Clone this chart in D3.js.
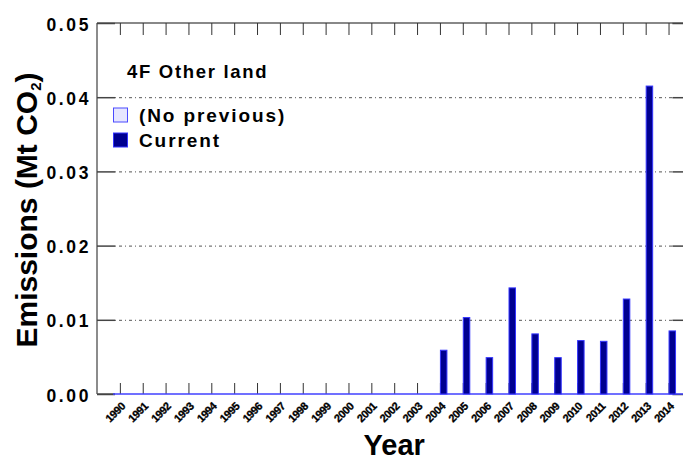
<!DOCTYPE html>
<html>
<head>
<meta charset="utf-8">
<script src="https://cdn.jsdelivr.net/npm/d3@7/dist/d3.min.js"></script>
<style>
  html, body { margin: 0; padding: 0; background: #fff; }
  svg { display: block; }
  text { font-family: "Liberation Sans", Arial, Helvetica, sans-serif; font-weight: bold; fill: #000; }
</style>
</head>
<body>
<svg id="chart" width="683" height="463"></svg>
<script>
// Sector 4F Other land: CO2 emissions per inventory year (Mt CO2)
const years = ["1990","1991","1992","1993","1994","1995","1996","1997","1998","1999",
               "2000","2001","2002","2003","2004","2005","2006","2007","2008","2009",
               "2010","2011","2012","2013","2014"];
const currentValues = [0,0,0,0,0,0,0,0,0,0,
                       0,0,0,0,0.0059,0.0103,0.0049,0.0143,0.0081,0.0049,
                       0.0072,0.0071,0.0128,0.0415,0.0085];
const yTicks = [0, 0.01, 0.02, 0.03, 0.04, 0.05];
const legendLabels = ["(No previous)", "Current"];
const chartTitle = "4F Other land";

const svg = d3.select("#chart");
const plot = { left: 97, right: 691.4, top: 23, bottom: 394 };

const x = d3.scalePoint().domain(years).range([plot.left, plot.right]).padding(1);
const y = d3.scaleLinear().domain([0, 0.05]).range([plot.bottom, plot.top]);

const barWidth = 6.5;
const navy = "#000090";
const edgeBlue = "#3535ff";

// dotted horizontal gridlines
svg.append("g").selectAll("line")
  .data(yTicks.filter(d => d > 0 && d < 0.05))
  .join("line")
  .attr("x1", plot.left + 18).attr("x2", plot.right - 19)
  .attr("y1", d => y(d) + 0.5).attr("y2", d => y(d) + 0.5)
  .attr("stroke", "#555").attr("stroke-width", 1)
  .attr("stroke-dasharray", "1,3,3,3");

// frame: left axis line and top border
svg.append("line")
  .attr("x1", plot.left).attr("x2", plot.left)
  .attr("y1", plot.top).attr("y2", plot.bottom)
  .attr("stroke", "#666").attr("stroke-width", 1.5);
svg.append("line")
  .attr("x1", plot.left).attr("x2", plot.right)
  .attr("y1", plot.top).attr("y2", plot.top)
  .attr("stroke", "#888").attr("stroke-width", 2);
svg.append("line")
  .attr("x1", plot.left).attr("x2", plot.left + 18)
  .attr("y1", plot.bottom).attr("y2", plot.bottom)
  .attr("stroke", "#555").attr("stroke-width", 1.5);

// left y axis, ticks pointing inward
const yAxis = d3.axisRight(y).tickValues(yTicks).tickSize(18).tickFormat("");
svg.append("g").attr("transform", `translate(${plot.left},0)`).call(yAxis)
  .call(g => g.select(".domain").remove())
  .call(g => g.selectAll(".tick line").attr("stroke", "#444").attr("stroke-width", 1.5));
// right y axis ticks (inward)
const yAxisR = d3.axisLeft(y).tickValues(yTicks).tickSize(19).tickFormat("");
svg.append("g").attr("transform", `translate(${plot.right},0)`).call(yAxisR)
  .call(g => g.select(".domain").remove())
  .call(g => g.selectAll(".tick line").attr("stroke", "#444").attr("stroke-width", 1.5));

// y tick labels
svg.append("g").selectAll("text")
  .data(yTicks)
  .join("text")
  .attr("x", 91).attr("y", d => y(d) + 7.5)
  .attr("text-anchor", "end")
  .style("font-size", "17.5px")
  .style("letter-spacing", "2.6px")
  .text(d => d3.format(".2f")(d));

// top x ticks (downward) and bottom x ticks (upward)
const xTop = d3.axisBottom(x).tickSize(12).tickFormat("");
svg.append("g").attr("transform", `translate(0,${plot.top})`).call(xTop)
  .call(g => g.select(".domain").remove())
  .call(g => g.selectAll(".tick line").attr("stroke", "#333").attr("stroke-width", 1));
const xBottom = d3.axisTop(x).tickSize(11).tickFormat("");
svg.append("g").attr("transform", `translate(0,${plot.bottom})`).call(xBottom)
  .call(g => g.select(".domain").remove())
  .call(g => g.selectAll(".tick line").attr("stroke", "#333").attr("stroke-width", 1));

// zero line of the bar series
svg.append("line")
  .attr("x1", plot.left + 16).attr("x2", plot.right)
  .attr("y1", plot.bottom).attr("y2", plot.bottom)
  .attr("stroke", "#4040ff").attr("stroke-width", 1.5);

// current bars
svg.append("g").selectAll("rect")
  .data(years.map((yr, i) => ({ yr, v: currentValues[i] })).filter(d => d.v > 0))
  .join("rect")
  .attr("x", d => x(d.yr) + 0.5)
  .attr("y", d => y(d.v))
  .attr("width", barWidth)
  .attr("height", d => y(0) - y(d.v))
  .attr("fill", navy)
  .attr("stroke", edgeBlue).attr("stroke-width", 1);

// rotated year labels
svg.append("g").selectAll("text")
  .data(years)
  .join("text")
  .attr("transform", d => `translate(${x(d) + 6},${plot.bottom + 13}) rotate(-45)`)
  .attr("text-anchor", "end")
  .style("font-size", "11px")
  .style("letter-spacing", "-0.5px")
  .style("stroke", "#000").style("stroke-width", 0.3)
  .text(d => d);

// axis titles
svg.append("text")
  .attr("x", (plot.left + plot.right) / 2).attr("y", 455)
  .attr("text-anchor", "middle")
  .style("font-size", "29px")
  .text("Year");

const yTitle = svg.append("text")
  .attr("transform", "translate(37,210) rotate(-90)")
  .attr("text-anchor", "middle")
  .style("font-size", "30px");
yTitle.append("tspan").text("Emissions (Mt CO");
yTitle.append("tspan").attr("dy", 4).style("font-size", "15px").text("2");
yTitle.append("tspan").attr("dy", -4).text(")");

// chart title and legend
svg.append("text")
  .attr("x", 127).attr("y", 78)
  .style("font-size", "18.5px").style("letter-spacing", "1.7px")
  .text(chartTitle);

const legend = svg.append("g");
const swatches = [
  { fill: "#e6e6ff", stroke: "#4a4aff" },
  { fill: navy, stroke: edgeBlue }
];
legendLabels.forEach((label, i) => {
  const ly = 108 + i * 25;
  legend.append("rect")
    .attr("x", 113.5).attr("y", ly)
    .attr("width", 14).attr("height", 14)
    .attr("fill", swatches[i].fill)
    .attr("stroke", swatches[i].stroke).attr("stroke-width", 1);
  legend.append("text")
    .attr("x", 139).attr("y", ly + 14)
    .style("font-size", "19px").style("letter-spacing", "1.9px")
    .text(label);
});
</script>
</body>
</html>
